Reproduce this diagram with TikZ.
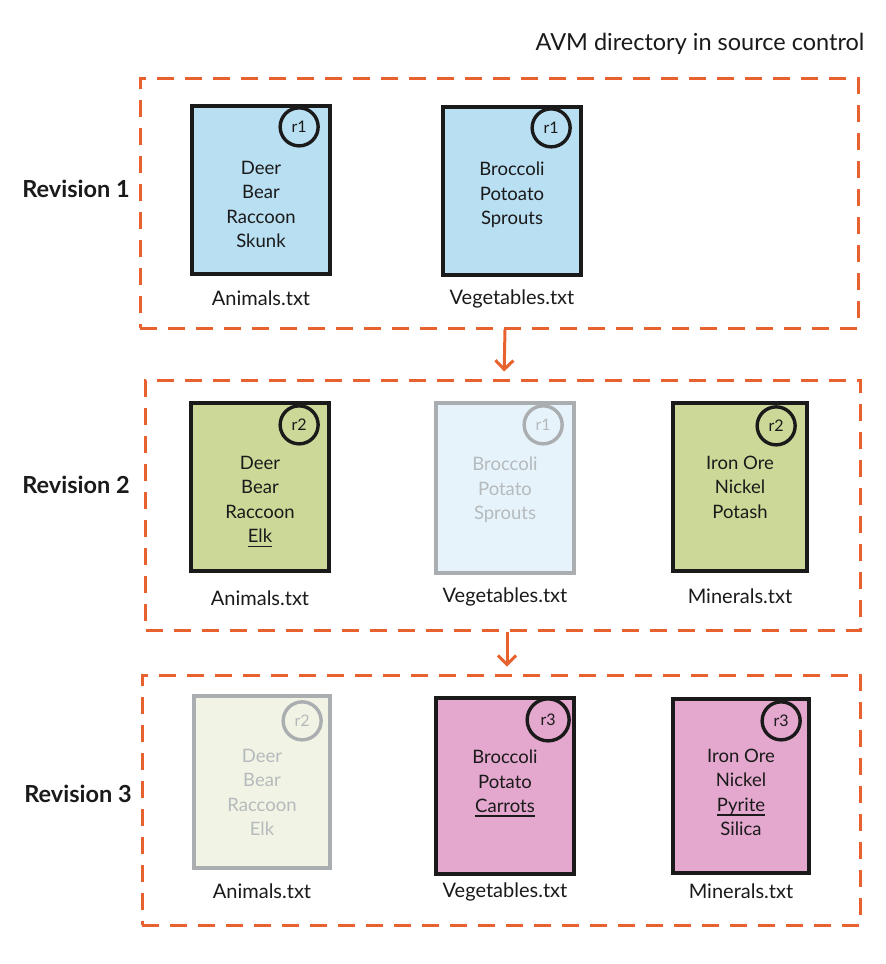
\documentclass[tikz,border=0pt]{standalone}
\usepackage{fontspec}
\setmainfont{Lato}
\usetikzlibrary{arrows.meta}
\definecolor{orng}{HTML}{E8622F}
\definecolor{blueF}{HTML}{B9DFF2}
\definecolor{greenF}{HTML}{CCD898}
\definecolor{pinkF}{HTML}{E4A8CE}
\definecolor{blueG}{HTML}{E6F3FA}
\definecolor{greenG}{HTML}{F1F4E4}
\definecolor{greyB}{HTML}{ABAEB0}
\definecolor{greyT}{HTML}{B5BABD}
\definecolor{inkc}{HTML}{1A1A1A}
\newcommand\undr[1]{\setbox0\hbox{#1}\rlap{\rule[-4.5pt]{\wd0}{1.7pt}}\box0}
\begin{document}
\begin{tikzpicture}[x=1pt,y=-1pt,
  revbox/.style={draw=orng, line width=3pt, dash pattern=on 17pt off 11pt, minimum width=#1, minimum height=250pt, inner sep=0},
  file/.style={draw=inkc, line width=4.3pt, minimum width=138pt, minimum height=168pt, inner sep=0},
  gfile/.style={draw=greyB, line width=4.3pt, minimum width=138pt, minimum height=170pt, inner sep=0},
  rv/.style={draw=inkc, circle, line width=3.4pt, minimum size=38pt, inner sep=0, text=inkc, font=\fontsize{16}{16}\selectfont},
  grv/.style={rv, draw=greyB, text=greyT},
  ftext/.style={anchor=north, align=center, inner sep=0, text=inkc, font=\fontsize{18.5}{24.5}\selectfont},
  gtext/.style={ftext, text=greyT},
  fname/.style={inner sep=0, text=inkc, font=\fontsize{20}{20}\selectfont},
  revlab/.style={inner sep=0, text=inkc, font=\fontsize{23.5}{23.5}\selectfont\bfseries},
  flow/.style={draw=orng, line width=3pt, -{Straight Barb[length=9pt,width=18pt,line width=3pt]}, shorten >=7pt}
]
\useasboundingbox (0,0) rectangle (886,964);
\fill[white] (0,0) rectangle (886,964);

% title
\node[inner sep=0, text=inkc, font=\fontsize{23.5}{23.5}\selectfont] (title) at (700,44) {AVM directory in source control};

% revision containers
\node[revbox=718pt] (r1) at (499,203) {};
\node[revbox=715pt] (r2) at (503,505) {};
\node[revbox=718pt] (r3) at (501,800) {};

\node[revlab] (l1) at (76,189) {Revision 1};
\node[revlab] (l2) at (76,485) {Revision 2};
\node[revlab] (l3) at (78,794) {Revision 3};

\draw[flow] ([xshift=6pt]r1.south) -- ([xshift=1pt]r2.north);
\draw[flow] ([xshift=4pt]r2.south) -- ([xshift=6pt]r3.north);

% ---------- Revision 1
\node[file, fill=blueF] (a1) at (261,190) {};
\node[rv] (a1r) at ([xshift=-33pt,yshift=-23pt]a1.north east) {r1};
\node[ftext] (a1t) at ([yshift=-57pt]a1.north) {Deer\\Bear\\Raccoon\\Skunk};
\node[fname] (a1n) at ([yshift=-22pt]a1.south) {Animals.txt};

\node[file, fill=blueF] (v1) at (512,191) {};
\node[rv] (v1r) at ([xshift=-32pt,yshift=-23pt]v1.north east) {r1};
\node[ftext] (v1t) at ([yshift=-57pt]v1.north) {Broccoli\\Potoato\\Sprouts};
\node[fname] (v1n) at ([yshift=-22pt]v1.south) {Vegetables.txt};

% ---------- Revision 2
\node[file, fill=greenF] (a2) at (260,487) {};
\node[rv] (a2r) at ([xshift=-32pt,yshift=-24pt]a2.north east) {r2};
\node[ftext] (a2t) at ([yshift=-55pt]a2.north) {Deer\\Bear\\Raccoon\\\undr{Elk}};
\node[fname] (a2n) at ([yshift=-25pt]a2.south) {Animals.txt};

\node[gfile, fill=blueG] (v2) at (505,488) {};
\node[grv] (v2r) at ([xshift=-33pt,yshift=-24pt]v2.north east) {r1};
\node[gtext] (v2t) at ([yshift=-56pt]v2.north) {Broccoli\\Potato\\Sprouts};
\node[fname] (v2n) at ([yshift=-22pt]v2.south) {Vegetables.txt};

\node[file, fill=greenF, minimum width=134pt] (m2) at (740,487) {};
\node[rv] (m2r) at ([xshift=-33pt,yshift=-25pt]m2.north east) {r2};
\node[ftext] (m2t) at ([yshift=-55pt]m2.north) {Iron Ore\\Nickel\\Potash};
\node[fname] (m2n) at ([yshift=-23pt]m2.south) {Minerals.txt};

% ---------- Revision 3
\node[gfile, fill=greenG, minimum width=136pt, minimum height=172pt] (a3) at (262,782) {};
\node[grv] (a3r) at ([xshift=-30pt,yshift=-27pt]a3.north east) {r2};
\node[gtext] (a3t) at ([yshift=-55pt]a3.north) {Deer\\Bear\\Raccoon\\Elk};
\node[fname] (a3n) at ([yshift=-21pt]a3.south) {Animals.txt};

\node[file, fill=pinkF, minimum height=176pt] (v3) at (505,786) {};
\node[rv, minimum size=42pt] (v3r) at ([xshift=-28pt,yshift=-24pt]v3.north east) {r3};
\node[ftext] (v3t) at ([yshift=-54pt]v3.north) {Broccoli\\Potato\\\undr{Carrots}};
\node[fname] (v3n) at ([yshift=-16pt]v3.south) {Vegetables.txt};

\node[file, fill=pinkF, minimum width=136pt, minimum height=174pt] (m3) at (741,786) {};
\node[rv] (m3r) at ([xshift=-30pt,yshift=-24pt]m3.north east) {r3};
\node[ftext] (m3t) at ([yshift=-52pt]m3.north) {Iron Ore\\Nickel\\\undr{Pyrite}\\Silica};
\node[fname] (m3n) at ([yshift=-16pt]m3.south) {Minerals.txt};
\end{tikzpicture}
\end{document}
